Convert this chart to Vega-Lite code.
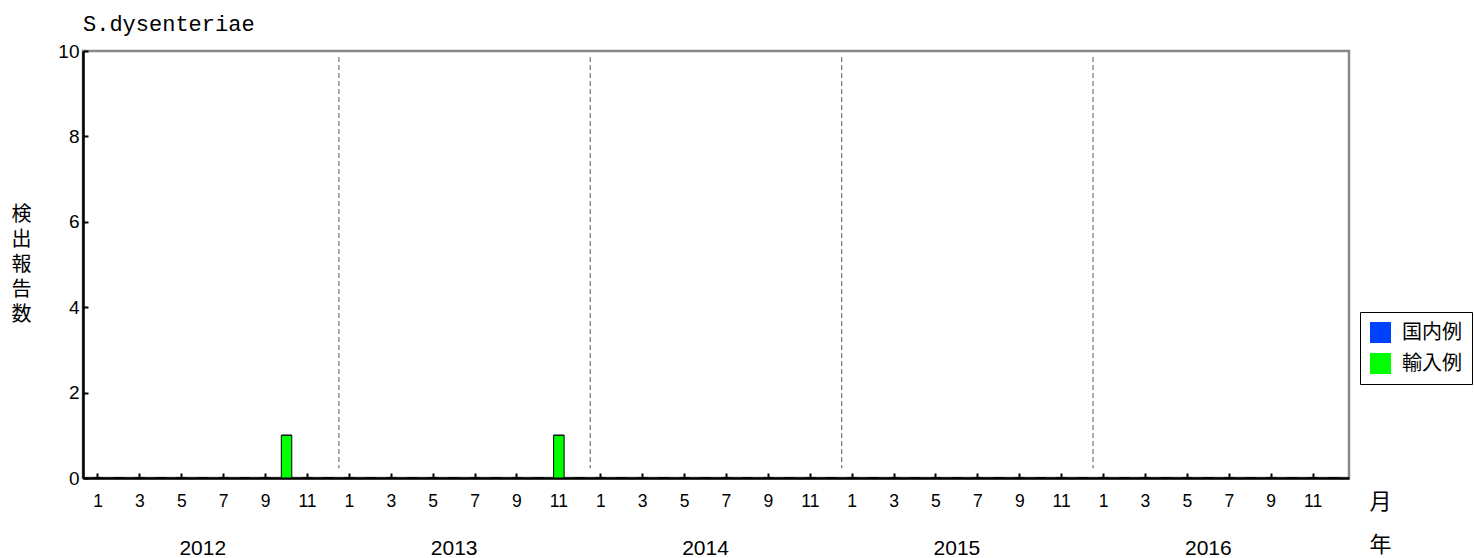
{
  "$schema": "https://vega.github.io/schema/vega-lite/v6.json",
  "autosize": {"type": "none"},
  "padding": {"left": 83, "top": 51, "right": 125, "bottom": 80},
  "width": 1266,
  "height": 427,
  "title": {"text": "S.dysenteriae", "anchor": "start", "frame": "group", "font": "Liberation Mono", "fontSize": 22, "fontWeight": "normal", "color": "#000", "offset": 6},
  "config": {
    "view": {"stroke": "#888", "strokeWidth": 2.5},
    "axis": {"grid": false, "domainColor": "#000", "domainWidth": 2.5, "tickColor": "#000", "tickWidth": 2, "labelFont": "Liberation Sans", "labelColor": "#000", "titleColor": "#000", "titleFontWeight": "normal"}
  },
  "datasets": {
    "monthly": [
      {"ym": "2012-01", "国内例": 0, "輸入例": 0}, {"ym": "2012-02", "国内例": 0, "輸入例": 0}, {"ym": "2012-03", "国内例": 0, "輸入例": 0},
      {"ym": "2012-04", "国内例": 0, "輸入例": 0}, {"ym": "2012-05", "国内例": 0, "輸入例": 0}, {"ym": "2012-06", "国内例": 0, "輸入例": 0},
      {"ym": "2012-07", "国内例": 0, "輸入例": 0}, {"ym": "2012-08", "国内例": 0, "輸入例": 0}, {"ym": "2012-09", "国内例": 0, "輸入例": 0},
      {"ym": "2012-10", "国内例": 0, "輸入例": 1}, {"ym": "2012-11", "国内例": 0, "輸入例": 0}, {"ym": "2012-12", "国内例": 0, "輸入例": 0},
      {"ym": "2013-01", "国内例": 0, "輸入例": 0}, {"ym": "2013-02", "国内例": 0, "輸入例": 0}, {"ym": "2013-03", "国内例": 0, "輸入例": 0},
      {"ym": "2013-04", "国内例": 0, "輸入例": 0}, {"ym": "2013-05", "国内例": 0, "輸入例": 0}, {"ym": "2013-06", "国内例": 0, "輸入例": 0},
      {"ym": "2013-07", "国内例": 0, "輸入例": 0}, {"ym": "2013-08", "国内例": 0, "輸入例": 0}, {"ym": "2013-09", "国内例": 0, "輸入例": 0},
      {"ym": "2013-10", "国内例": 0, "輸入例": 0}, {"ym": "2013-11", "国内例": 0, "輸入例": 1}, {"ym": "2013-12", "国内例": 0, "輸入例": 0},
      {"ym": "2014-01", "国内例": 0, "輸入例": 0}, {"ym": "2014-02", "国内例": 0, "輸入例": 0}, {"ym": "2014-03", "国内例": 0, "輸入例": 0},
      {"ym": "2014-04", "国内例": 0, "輸入例": 0}, {"ym": "2014-05", "国内例": 0, "輸入例": 0}, {"ym": "2014-06", "国内例": 0, "輸入例": 0},
      {"ym": "2014-07", "国内例": 0, "輸入例": 0}, {"ym": "2014-08", "国内例": 0, "輸入例": 0}, {"ym": "2014-09", "国内例": 0, "輸入例": 0},
      {"ym": "2014-10", "国内例": 0, "輸入例": 0}, {"ym": "2014-11", "国内例": 0, "輸入例": 0}, {"ym": "2014-12", "国内例": 0, "輸入例": 0},
      {"ym": "2015-01", "国内例": 0, "輸入例": 0}, {"ym": "2015-02", "国内例": 0, "輸入例": 0}, {"ym": "2015-03", "国内例": 0, "輸入例": 0},
      {"ym": "2015-04", "国内例": 0, "輸入例": 0}, {"ym": "2015-05", "国内例": 0, "輸入例": 0}, {"ym": "2015-06", "国内例": 0, "輸入例": 0},
      {"ym": "2015-07", "国内例": 0, "輸入例": 0}, {"ym": "2015-08", "国内例": 0, "輸入例": 0}, {"ym": "2015-09", "国内例": 0, "輸入例": 0},
      {"ym": "2015-10", "国内例": 0, "輸入例": 0}, {"ym": "2015-11", "国内例": 0, "輸入例": 0}, {"ym": "2015-12", "国内例": 0, "輸入例": 0},
      {"ym": "2016-01", "国内例": 0, "輸入例": 0}, {"ym": "2016-02", "国内例": 0, "輸入例": 0}, {"ym": "2016-03", "国内例": 0, "輸入例": 0},
      {"ym": "2016-04", "国内例": 0, "輸入例": 0}, {"ym": "2016-05", "国内例": 0, "輸入例": 0}, {"ym": "2016-06", "国内例": 0, "輸入例": 0},
      {"ym": "2016-07", "国内例": 0, "輸入例": 0}, {"ym": "2016-08", "国内例": 0, "輸入例": 0}, {"ym": "2016-09", "国内例": 0, "輸入例": 0},
      {"ym": "2016-10", "国内例": 0, "輸入例": 0}, {"ym": "2016-11", "国内例": 0, "輸入例": 0}, {"ym": "2016-12", "国内例": 0, "輸入例": 0}
    ]
  },
  "data": {"name": "monthly"},
  "encoding": {
    "x": {
      "field": "ym", "type": "ordinal", "sort": "ascending",
      "scale": {"paddingInner": 0, "paddingOuter": 0.216},
      "axis": {
        "title": ["月", "年"], "titleFont": "Noto Sans CJK JP", "titleFontSize": 22, "titleLineHeight": 43,
        "titleAngle": 0, "titleAlign": "center", "titleBaseline": "top", "titleX": 1297, "titleY": 13,
        "labelAngle": 0, "labelOverlap": false, "labelBound": false,
        "labelExpr": "substring(datum.value,5,7) == '06' ? substring(datum.value,0,4) : (toNumber(substring(datum.value,5,7)) % 2 == 1 ? '' + toNumber(substring(datum.value,5,7)) : '')",
        "labelFontSize": {"condition": {"test": "substring(datum.value,5,7) == '06'", "value": 21}, "value": 17.5},
        "labelPadding": {"condition": {"test": "substring(datum.value,5,7) == '06'", "value": 64}, "value": 19},
        "tickOpacity": {"condition": {"test": "toNumber(substring(datum.value,5,7)) % 2 == 1", "value": 1}, "value": 0},
        "tickSize": -5
      }
    }
  },
  "layer": [
    {
      "transform": [{"fold": ["国内例", "輸入例"], "as": ["type", "count"]}],
      "mark": {"type": "bar", "width": {"band": 0.5}, "stroke": "#000", "strokeWidth": 1},
      "encoding": {
        "y": {
          "field": "count", "type": "quantitative", "stack": "zero",
          "scale": {"domain": [0, 10]},
          "axis": {
            "values": [0, 2, 4, 6, 8, 10], "labelFontSize": 19, "labelPadding": 9, "tickSize": -5,
            "title": ["検", "出", "報", "告", "数"], "titleFont": "Noto Sans CJK JP", "titleFontSize": 20, "titleLineHeight": 25,
            "titleAngle": 0, "titleAlign": "center", "titleBaseline": "middle", "titleX": -62, "titleY": 163
          }
        },
        "color": {
          "field": "type", "type": "nominal",
          "scale": {"domain": ["国内例", "輸入例"], "range": ["#0040ff", "#00ff00"]},
          "legend": {
            "title": null, "orient": "none", "legendX": 1277, "legendY": 261,
            "strokeColor": "#000", "padding": 10, "fillColor": "#fff",
            "symbolType": "square", "symbolSize": 441, "symbolStrokeWidth": 0, "symbolOpacity": 1,
            "labelFont": "Noto Sans CJK JP", "labelFontSize": 20, "labelColor": "#000", "labelOffset": 11, "rowPadding": 10
          }
        }
      }
    },
    {
      "transform": [{"filter": "substring(datum.ym,5,7) == '01' && substring(datum.ym,0,4) != '2012'"}],
      "mark": {"type": "rule", "color": "#777", "strokeWidth": 1.2, "strokeDash": [5, 3], "xOffset": -10.5},
      "encoding": {
        "y": {"datum": 9.86},
        "y2": {"datum": 0.23}
      }
    }
  ]
}
